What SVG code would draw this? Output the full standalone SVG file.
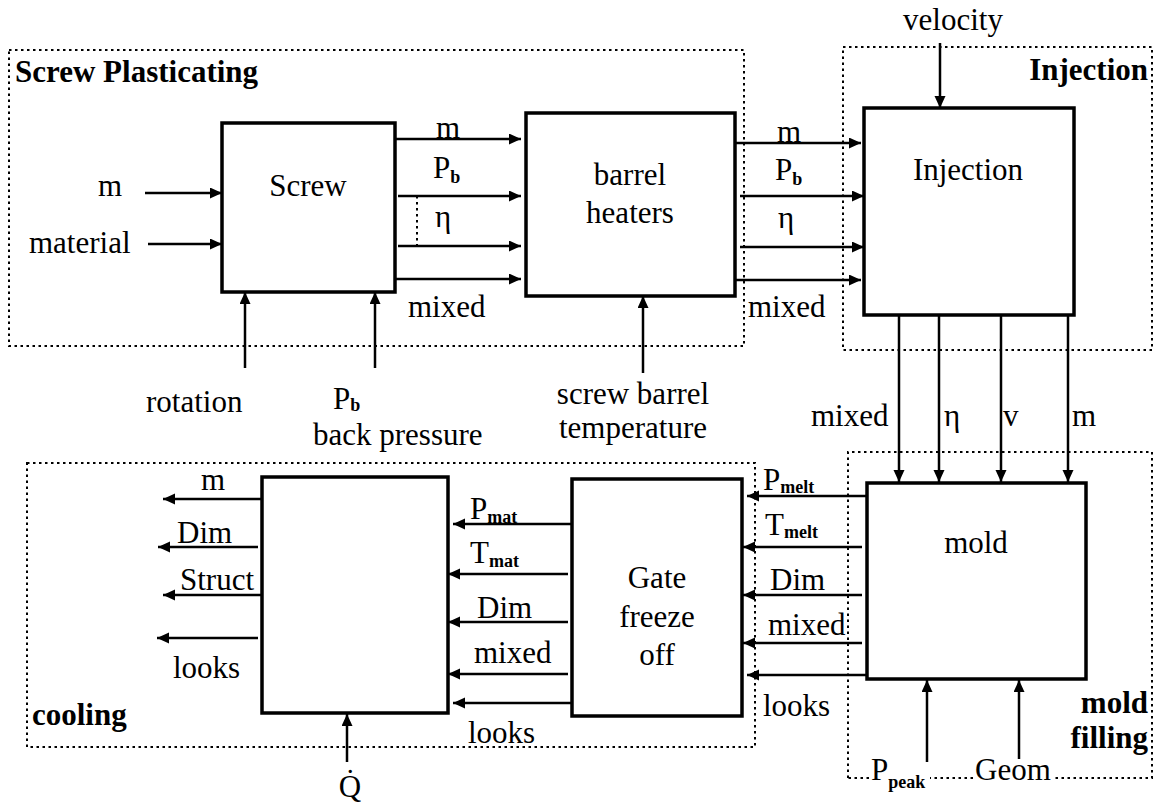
<svg xmlns="http://www.w3.org/2000/svg" width="1154" height="804" viewBox="0 0 1154 804">
<defs>
<marker id="ah" markerUnits="userSpaceOnUse" markerWidth="13" markerHeight="12" refX="12" refY="5.5" orient="auto"><path d="M0,0 L12,5.5 L0,11 z" fill="#000"/></marker>
</defs>
<style>
text{font-family:"Liberation Serif","Times New Roman",serif;font-size:31px;fill:#000}
.t{font-weight:bold}
.sub{font-size:18px;font-weight:bold}
.box{fill:#fff;stroke:#000;stroke-width:3.5}
.grp{fill:none;stroke:#000;stroke-width:2;stroke-dasharray:2.5 3.5}
.c{fill:none;stroke:#000;stroke-width:2.5}
.a{marker-end:url(#ah)}
.m{text-anchor:middle}
.e{text-anchor:end}
</style>
<rect width="1154" height="804" fill="#fff"/>

<g id="grp-screw-plasticating">
<rect class="grp" x="9" y="50" width="735" height="296"/>
<text class="t" x="15" y="82">Screw Plasticating</text>
</g>
<g id="grp-injection">
<rect class="grp" x="843" y="47" width="309" height="303"/>
<text class="t e" x="1148" y="80">Injection</text>
</g>
<g id="grp-cooling">
<rect class="grp" x="27" y="463" width="728" height="284"/>
<text class="t" x="32" y="725">cooling</text>
</g>
<g id="grp-mold-filling">
<path class="grp" d="M848,778 V452 H1152 V778 H1054 M973,778 H930 M869,778 H848"/>
<text class="t e" x="1148" y="713">mold</text>
<text class="t e" x="1148" y="748">filling</text>
</g>

<g id="connectors">
<path class="c a" d="M145,193 H222"/>
<path class="c a" d="M148,244 H222"/>
<path class="c a" d="M245,368 V292"/>
<path class="c a" d="M375,368 V292"/>
<path class="c a" d="M395,139 H521"/>
<path class="c a" d="M398,196 H521"/>
<path class="c a" d="M398,246 H521"/>
<path class="c a" d="M395,279 H521"/>
<path class="grp" d="M417,196 V246"/>
<path class="c a" d="M643,373 V296"/>
<path class="c a" d="M735,143 H861"/>
<path class="c a" d="M740,196 H864"/>
<path class="c a" d="M740,247 H864"/>
<path class="c a" d="M735,280 H861"/>
<path class="c a" d="M940,43 V108"/>
<path class="c a" d="M899,315 V482"/>
<path class="c a" d="M939,315 V482"/>
<path class="c a" d="M1001,315 V482"/>
<path class="c a" d="M1068,315 V482"/>
<path class="c a" d="M867,496 H747"/>
<path class="c a" d="M862,547 H743"/>
<path class="c a" d="M862,595 H743"/>
<path class="c a" d="M862,643 H743"/>
<path class="c a" d="M867,675 H747"/>
<path class="c a" d="M572,524 H453"/>
<path class="c a" d="M568,574 H448"/>
<path class="c a" d="M568,622 H448"/>
<path class="c a" d="M568,674 H448"/>
<path class="c a" d="M572,703 H453"/>
<path class="c a" d="M262,499 H163"/>
<path class="c a" d="M258,547 H158"/>
<path class="c a" d="M262,595 H163"/>
<path class="c a" d="M258,638 H157"/>
<path class="c a" d="M347,762 V714"/>
<path class="c a" d="M927,762 V680"/>
<path class="c a" d="M1019,759 V680"/>
</g>

<g id="node-screw">
<rect class="box" x="222" y="123" width="173" height="169"/>
<text class="m" x="308" y="196">Screw</text>
</g>
<g id="node-barrel-heaters">
<rect class="box" x="526" y="113" width="209" height="183"/>
<text class="m" x="630" y="185">barrel</text>
<text class="m" x="630" y="223">heaters</text>
</g>
<g id="node-injection">
<rect class="box" x="864" y="108" width="210" height="207"/>
<text class="m" x="968" y="180">Injection</text>
</g>
<g id="node-mold">
<rect class="box" x="867" y="483" width="219" height="196"/>
<text class="m" x="976" y="553">mold</text>
</g>
<g id="node-gate-freeze-off">
<rect class="box" x="572" y="479" width="170" height="237"/>
<text class="m" x="657" y="588">Gate</text>
<text class="m" x="657" y="627">freeze</text>
<text class="m" x="657" y="665">off</text>
</g>
<g id="node-cooling">
<rect class="box" x="262" y="477" width="186" height="236"/>
</g>

<g id="labels">
<text class="m" x="110" y="196">m</text>
<text x="29" y="253">material</text>
<text x="146" y="412">rotation</text>
<text x="333" y="409">P<tspan class="sub" dy="2">b</tspan></text>
<text x="313" y="445">back pressure</text>
<text class="m" x="633" y="404">screw barrel</text>
<text class="m" x="633" y="438">temperature</text>
<text class="m" x="953" y="30">velocity</text>

<text class="m" x="448" y="138">m</text>
<text x="433" y="178">P<tspan class="sub" dy="5">b</tspan></text>
<text x="435" y="227">η</text>
<text x="408" y="317">mixed</text>

<text class="m" x="789" y="142">m</text>
<text x="775" y="180">P<tspan class="sub" dy="5">b</tspan></text>
<text x="778" y="228">η</text>
<text x="748" y="317">mixed</text>

<text x="811" y="426">mixed</text>
<text x="944" y="426">η</text>
<text x="1003" y="426">v</text>
<text x="1072" y="426">m</text>

<text x="763" y="490">P<tspan class="sub" dy="3">melt</tspan></text>
<text x="765" y="535">T<tspan class="sub" dy="3">melt</tspan></text>
<text x="770" y="590">Dim</text>
<text x="768" y="635">mixed</text>
<text x="763" y="716">looks</text>

<text x="470" y="519">P<tspan class="sub" dy="4">mat</tspan></text>
<text x="470" y="563">T<tspan class="sub" dy="4">mat</tspan></text>
<text x="477" y="618">Dim</text>
<text x="474" y="663">mixed</text>
<text x="468" y="743">looks</text>

<text class="m" x="213" y="490">m</text>
<text x="177" y="543">Dim</text>
<text x="180" y="590">Struct</text>
<text x="173" y="678">looks</text>

<text class="m" x="350" y="797">Q̇</text>
<text x="871" y="780">P<tspan class="sub" dy="8">peak</tspan></text>
<text x="975" y="780">Geom</text>
</g>
</svg>
